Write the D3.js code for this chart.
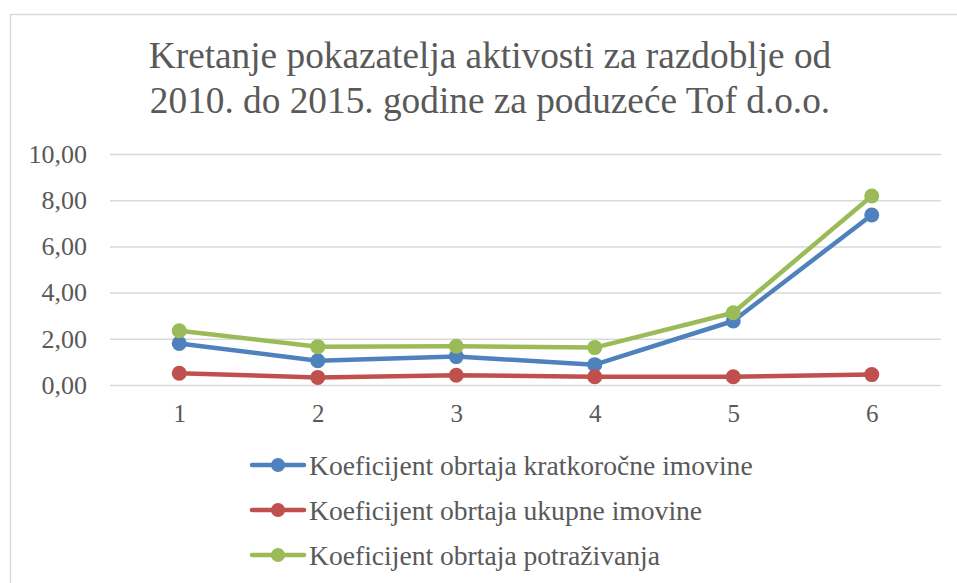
<!DOCTYPE html>
<html>
<head>
<meta charset="utf-8">
<script src="https://cdn.jsdelivr.net/npm/d3@7"></script>
<style>
  body { margin: 0; background: #fff; }
  text { font-family: "Liberation Serif", "Times New Roman", serif; fill: #595959; }
</style>
</head>
<body>
<div id="chart"></div>
<script>
// Data
const categories = ['1', '2', '3', '4', '5', '6'];
const seriesNames = [
  'Koeficijent obrtaja kratkoročne imovine',
  'Koeficijent obrtaja ukupne imovine',
  'Koeficijent obrtaja potraživanja'
];
const kratkorocna = [1.80, 1.05, 1.23, 0.88, 2.77, 7.36];
const ukupna = [0.51, 0.33, 0.42, 0.36, 0.36, 0.45];
const potrazivanja = [2.35, 1.66, 1.68, 1.62, 3.13, 8.18];
const yTicks = [0, 2, 4, 6, 8, 10];
const colors = ['#4f81bd', '#c0504d', '#9bbb59'];
const titleLines = [
  'Kretanje pokazatelja aktivosti za razdoblje od',
  '2010. do 2015. godine za poduzeće Tof d.o.o.'
];

const series = [kratkorocna, ukupna, potrazivanja].map((vals, i) => ({
  name: seriesNames[i],
  color: colors[i],
  values: vals.map((v, j) => ({ cat: categories[j], v: v }))
}));

const width = 957, height = 583;
const margin = { top: 154, right: 16, bottom: 198, left: 110 };
const innerW = width - margin.left - margin.right;
const innerH = height - margin.top - margin.bottom;

const svg = d3.select('#chart').append('svg')
  .attr('width', width)
  .attr('height', height);

// chart area border
svg.append('rect')
  .attr('x', 10.5)
  .attr('y', 14.5)
  .attr('width', width)
  .attr('height', height)
  .attr('fill', 'none')
  .attr('stroke', '#d9d9d9')
  .attr('stroke-width', 1.5);

// title
svg.append('text')
  .attr('text-anchor', 'middle')
  .style('font-size', '37.3px')
  .selectAll('tspan')
  .data(titleLines)
  .join('tspan')
  .attr('x', 490)
  .attr('y', (d, i) => 68 + i * 45)
  .text(d => d);

const chart = svg.append('g')
  .attr('transform', `translate(${margin.left},${margin.top})`);

const xScale = d3.scalePoint()
  .domain(categories)
  .range([0, innerW])
  .padding(0.5);

const yScale = d3.scaleLinear()
  .domain([0, 10])
  .range([innerH, 0]);

// gridlines + y labels
const yAxis = d3.axisLeft(yScale)
  .tickValues(yTicks)
  .tickSize(-innerW)
  .tickPadding(23)
  .tickFormat(d => d3.format('.2f')(d).replace('.', ','));

const yAxisGroup = chart.append('g').call(yAxis);
yAxisGroup.select('.domain').remove();
yAxisGroup.selectAll('.tick line')
  .attr('stroke', '#d9d9d9')
  .attr('stroke-width', 1.5);
yAxisGroup.selectAll('.tick text')
  .attr('fill', '#595959')
  .style('font-size', '26px')
  .style('font-family', '"Liberation Serif", serif');

const xAxis = d3.axisBottom(xScale)
  .tickSize(0)
  .tickPadding(19);

const xAxisGroup = chart.append('g')
  .attr('transform', `translate(0,${innerH})`)
  .call(xAxis);
xAxisGroup.select('.domain').remove();
xAxisGroup.selectAll('.tick text')
  .attr('fill', '#595959')
  .style('font-size', '25px')
  .style('font-family', '"Liberation Serif", serif');

const line = d3.line()
  .x(d => xScale(d.cat))
  .y(d => yScale(d.v));

const seriesGroups = chart.selectAll('.series')
  .data(series)
  .join('g')
  .attr('class', 'series');

seriesGroups.append('path')
  .attr('d', d => line(d.values))
  .attr('fill', 'none')
  .attr('stroke', d => d.color)
  .attr('stroke-width', 4.5)
  .attr('stroke-linejoin', 'round')
  .attr('stroke-linecap', 'round');

seriesGroups.selectAll('circle')
  .data(d => d.values.map(p => ({ ...p, color: d.color })))
  .join('circle')
  .attr('cx', d => xScale(d.cat))
  .attr('cy', d => yScale(d.v))
  .attr('r', 7.5)
  .attr('fill', d => d.color);

// legend
const legend = svg.append('g')
  .attr('transform', 'translate(250,465)');

const legendRows = legend.selectAll('.legend-row')
  .data(series)
  .join('g')
  .attr('class', 'legend-row')
  .attr('transform', (d, i) => `translate(0,${i * 45})`);

legendRows.append('line')
  .attr('x1', 2)
  .attr('x2', 54)
  .attr('stroke', d => d.color)
  .attr('stroke-width', 4.5)
  .attr('stroke-linecap', 'round');

legendRows.append('circle')
  .attr('cx', 28)
  .attr('r', 7)
  .attr('fill', d => d.color);

legendRows.append('text')
  .attr('x', 59)
  .attr('dy', '0.35em')
  .style('font-size', '27.6px')
  .text(d => d.name);
</script>
</body>
</html>
